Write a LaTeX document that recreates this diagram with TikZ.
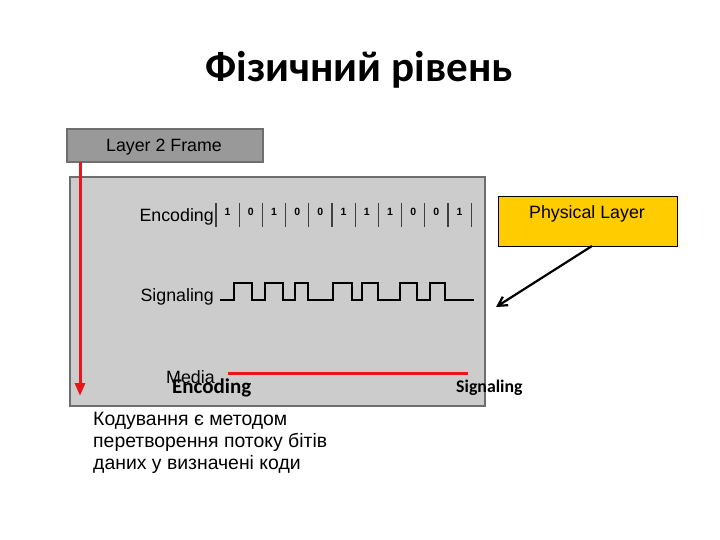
\documentclass[tikz,border=0pt]{standalone}
\usepackage{fontspec}
\setmainfont{Liberation Sans}
\newfontfamily\calib{Carlito}
\usetikzlibrary{arrows.meta}
\definecolor{framegray}{HTML}{999999}
\definecolor{panelgray}{HTML}{CCCCCC}
\definecolor{edgegray}{HTML}{6E6E6E}
\definecolor{phys}{HTML}{FFCC00}
\definecolor{redline}{HTML}{E8161B}
\tikzset{
  lbl/.style={font=\fontsize{17.8}{20}\selectfont, inner sep=0pt},
  bit/.style={font=\fontsize{10.5}{12}\selectfont\bfseries, inner sep=0pt},
}
\begin{document}
\begin{tikzpicture}[x=1pt,y=-1pt]
\useasboundingbox (0,0) rectangle (720,540);
% title
\node[font=\calib\fontsize{43}{48}\selectfont\bfseries, anchor=base, inner sep=0pt] (title) at (359,82) {Фізичний рівень};
% panel
\node[draw=edgegray, line width=2pt, fill=panelgray, minimum width=415pt, minimum height=229pt, anchor=north west, inner sep=0pt] (panel) at (69,176) {};
% layer 2 frame
\node[draw=edgegray, line width=2pt, fill=framegray, minimum width=196pt, minimum height=33pt, anchor=north west, inner sep=0pt] (frame) at (66,128) {};
\node[lbl] (frametxt) at (164,147) {Layer 2 Frame};
% red arrow
\coordinate (rstart) at (80,162);
\coordinate (rend) at (80,396);
\draw[redline, line width=3pt, -{Triangle[length=13pt,width=10pt]}] (rstart) -- (rend);
% encoding
\node[lbl, anchor=east] (enc) at (214,217) {Encoding};
\foreach \i in {0,...,11} {
  \draw[black!75, line width=1.1pt] ({216+\i*23.2},203) -- ({216+\i*23.2},227);
}
\foreach \b [count=\i from 0] in {1,0,1,0,0,1,1,1,0,0,1} {
  \node[bit] (b\i) at ({216+\i*23.2+11.6},212) {\b};
}
% signaling
\node[lbl, anchor=east] (sig) at (214,297) {Signaling};
\draw[black, line width=2.6pt, line join=miter]
  (220,300) -- (234,300) -- (234,283) -- (252,283) -- (252,300)
  -- (265,300) -- (265,283) -- (283,283) -- (283,300)
  -- (295,300) -- (295,283) -- (308,283) -- (308,300)
  -- (333,300) -- (333,283) -- (352,283) -- (352,300)
  -- (362,300) -- (362,283) -- (378,283) -- (378,300)
  -- (400,300) -- (400,283) -- (417,283) -- (417,300)
  -- (430,300) -- (430,283) -- (445,283) -- (445,300)
  -- (474,300);
% media
\draw[redline, line width=3pt] (228,373) -- (468,373);
\node[lbl, anchor=west] (media) at (166,377) {Media};
\node[font=\calib\fontsize{21}{24}\selectfont\bfseries, inner sep=0pt, anchor=west] (encb) at (172,388) {Encoding};
\node[font=\calib\fontsize{17.8}{22}\selectfont\bfseries, inner sep=0pt, anchor=west] (sigb) at (456,388) {Signaling};
% physical layer
\node[draw=black, line width=1.4pt, fill=phys, minimum width=179pt, minimum height=50pt, anchor=north west, inner sep=0pt] (phys) at (498,196) {};
\node[lbl] (phystxt) at (587,214) {Physical Layer};
\coordinate (pa) at (592,246);
\coordinate (pb) at (496,307);
\draw[black, line width=2.2pt, -{Straight Barb[length=9pt,width=10pt]}] (pa) -- (pb);
% description
\node[anchor=north west, align=left, font=\fontsize{19.4}{22}\selectfont, inner sep=0pt] (desc) at (93,412)
 {Кодування є методом\\перетворення потоку бітів\\даних у визначені коди};
\end{tikzpicture}
\end{document}
